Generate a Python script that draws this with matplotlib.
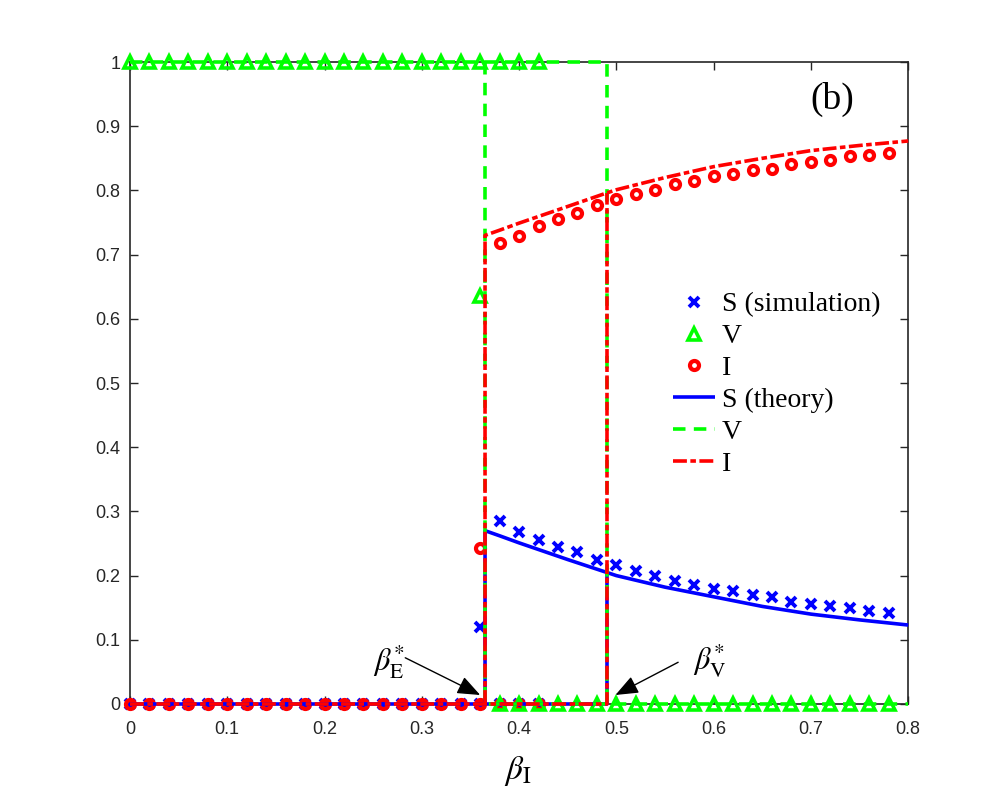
# LIBRARIES

import numpy as np
import matplotlib
matplotlib.use("Agg")
import matplotlib.pyplot as plt
from matplotlib.ticker import FuncFormatter


# DATA

# simulation, disease-free branch (S=0, V=1, I=0)
beta_low = np.round(np.arange(0, 0.421, 0.02), 2)
S_low = np.zeros(len(beta_low))
V_low = np.ones(len(beta_low))
I_low = np.zeros(len(beta_low))

# simulation, transition point
beta_mid = [0.36]
S_mid = [0.12]
V_mid = [0.635]
I_mid = [0.243]

# simulation, endemic branch
beta_high = np.round(np.arange(0.38, 0.781, 0.02), 2)
S_high = [0.285, 0.268, 0.255, 0.244, 0.236, 0.224, 0.217, 0.207, 0.200, 0.192, 0.185,
          0.179, 0.176, 0.170, 0.166, 0.159, 0.155, 0.152, 0.149, 0.145, 0.141]
V_high = np.zeros(len(beta_high))
I_high = [0.718, 0.729, 0.745, 0.756, 0.765, 0.777, 0.786, 0.794, 0.801, 0.810, 0.815,
          0.822, 0.825, 0.831, 0.834, 0.841, 0.845, 0.847, 0.853, 0.855, 0.859]

# theory
beta_E = 0.365
beta_V = 0.49
beta_th = [0.365, 0.38, 0.40, 0.45, 0.49, 0.50, 0.55, 0.60, 0.65, 0.70, 0.75, 0.80]
S_th = [0.270, 0.262, 0.251, 0.225, 0.205, 0.200, 0.182, 0.167, 0.152, 0.140, 0.131, 0.123]
I_th = [0.730, 0.738, 0.749, 0.775, 0.796, 0.801, 0.820, 0.837, 0.850, 0.862, 0.870, 0.877]
V_th = np.zeros(len(beta_th))


# STYLE

plt.rcParams['mathtext.fontset'] = 'stix'
plt.rcParams['lines.scale_dashes'] = False
BLUE, GREEN, RED = "#0000FF", "#00FF00", "#FF0000"
AX_COLOR = "#262626"
serif = "Liberation Serif"


# FIGURE

fig = plt.figure(figsize=(10.02, 7.99), dpi=100)
ax = fig.add_axes([0.1297, 0.1189, 0.7767, 0.8035])

sim = dict(linestyle="none", clip_on=False, zorder=3)
bx = np.concatenate([beta_low, beta_mid, beta_high])

h_s, = ax.plot(bx, np.concatenate([S_low, S_mid, S_high]), marker="x", color=BLUE,
               ms=7, mew=2.8, label="S (simulation)", **sim)
h_i, = ax.plot(bx, np.concatenate([I_low, I_mid, I_high]), marker="o", color=RED,
               mfc="none", ms=6.5, mew=3.0, label="I", **sim)
h_v, = ax.plot(bx, np.concatenate([V_low, V_mid, V_high]), marker="^", color=GREEN,
               mfc="none", ms=8.5, mew=2.6, label="V", **sim)

th = dict(lw=2.6, clip_on=False, zorder=4, solid_capstyle="butt", dash_capstyle="butt")
S_jump = np.interp(beta_V, beta_th, S_th)
I_jump = np.interp(beta_V, beta_th, I_th)

# S theory
h_st, = ax.plot([0, beta_V, beta_V], [0, 0, S_jump], color=BLUE, label="S (theory)", **th)
ax.plot([beta_E] + beta_th, [0] + S_th, color=BLUE, **th)

# V theory
dash_v = (9, 6)
h_vt, = ax.plot([0, beta_V, beta_V], [1, 1, 0], color=GREEN, dashes=dash_v, label="V", **th)
ax.plot([beta_E] + beta_th, np.concatenate([[1], V_th]), color=GREEN, dashes=dash_v, **th)

# I theory
dash_i = (10, 2.5, 4, 2.5)
h_it, = ax.plot([0, beta_V, beta_V], [0, 0, I_jump], color=RED, dashes=dash_i, label="I", **th)
ax.plot([beta_E] + beta_th, [0] + I_th, color=RED, dashes=dash_i, **th)


# AXES

ax.set_xlim(0, 0.8)
ax.set_ylim(0, 1)
ax.set_xticks(np.arange(0, 0.81, 0.1))
ax.set_yticks(np.arange(0, 1.01, 0.1))
fmt = FuncFormatter(lambda v, p: "%g" % round(v, 2))
ax.xaxis.set_major_formatter(fmt)
ax.yaxis.set_major_formatter(fmt)
ax.tick_params(direction="in", length=6, width=1, top=True, right=True,
               colors=AX_COLOR, labelsize=13, pad=7)
ax.tick_params(axis="x", pad=12)
for lab in ax.get_xticklabels() + ax.get_yticklabels():
    lab.set_fontfamily("Liberation Sans")
for sp in ax.spines.values():
    sp.set_color(AX_COLOR)
    sp.set_linewidth(1.2)

fig.text(518 / 1002, 1 - 771 / 799, r"$\beta_{\mathrm{I}}$", fontsize=24,
         ha="center", va="center")

ax.text(0.722, 0.942, "(b)", fontsize=27, family=serif, ha="center", va="center")


# ANNOTATIONS

arrow = dict(arrowstyle="-|>,head_length=0.7,head_width=0.28", color="k", lw=1,
             mutation_scale=20, shrinkA=0, shrinkB=0)
ax.text(0.250, 0.065, r"$\beta_{\mathrm{E}}^{*}$", fontsize=22, ha="left", va="center")
ax.annotate("", xy=(0.360, 0.014), xytext=(0.283, 0.072), arrowprops=arrow)
ax.text(0.579, 0.066, r"$\beta_{\mathrm{V}}^{*}$", fontsize=22, ha="left", va="center")
ax.annotate("", xy=(0.499, 0.014), xytext=(0.5635, 0.065), arrowprops=arrow)


# LEGEND

ax.legend(handles=[h_s, h_v, h_i, h_st, h_vt, h_it], loc="upper left",
          bbox_to_anchor=(673 / 1002, 1 - 292 / 799), bbox_transform=fig.transFigure,
          frameon=False, prop={"family": serif, "size": 20}, borderpad=0,
          borderaxespad=0, labelspacing=0.23, handlelength=1.5, handletextpad=0.25)


# OUTPUT

fig.savefig("out.png", dpi=100)
